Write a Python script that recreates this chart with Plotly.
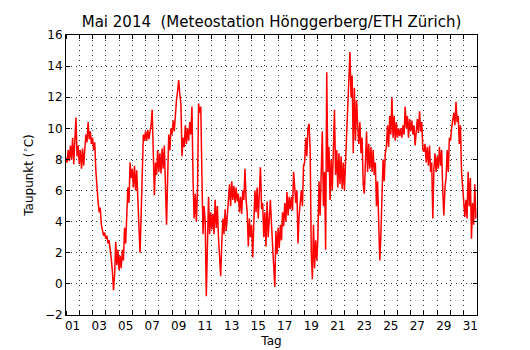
import pandas as pd
import plotly.graph_objects as go

# Taupunkt, Mai 2014, 2-stündlich, je Tag 12 Werte (00,02,...,22 Uhr)
taupunkt = [
    8.1, 7.8, 8.6, 7.9, 8.9, 8.0, 9.4, 7.7, 9.2, 10.7, 8.2, 8.9,      # 01
    7.7, 8.6, 7.4, 8.7, 7.6, 8.9, 9.6, 9.1, 10.4, 9.3, 9.8, 9.0,      # 02
    9.4, 8.6, 9.1, 7.3, 5.9, 5.3, 4.6, 4.9, 3.8, 3.4, 3.1, 3.3,       # 03
    2.9, 3.1, 2.6, 2.8, 2.3, 1.6, 0.8, -0.4, 0.6, 2.7, 1.2, 2.2,      # 04
    0.9, 1.8, 1.0, 2.2, 1.5, 3.6, 2.6, 4.8, 6.2, 5.2, 7.8, 6.8,       # 05
    7.4, 6.2, 7.6, 6.0, 7.3, 5.5, 3.2, 2.0, 4.4, 7.2, 9.6, 9.2,       # 06
    9.8, 9.2, 9.9, 9.3, 9.7, 10.2, 11.2, 7.2, 5.7, 7.8, 7.0, 8.6,     # 07
    7.2, 8.4, 7.1, 8.7, 7.4, 8.9, 6.0, 3.8, 6.8, 9.6, 8.6, 10.0,      # 08
    9.6, 10.5, 9.8, 11.0, 11.8, 12.4, 13.1, 12.2, 11.6, 8.2, 9.4, 8.8,  # 09
    10.2, 9.0, 10.0, 9.2, 10.4, 9.6, 11.4, 6.6, 4.2, 5.8, 4.0, 6.0,   # 10
    11.6, 11.0, 11.4, 7.0, 3.2, 5.0, 4.0, -0.8, 3.8, 5.6, 3.2, 4.6,   # 11
    3.5, 4.5, 3.2, 5.4, 3.6, 5.0, 3.0, 1.4, 0.5, 2.6, 4.2, 3.2,       # 12
    4.8, 3.4, 4.6, 5.2, 6.4, 5.0, 6.6, 5.4, 6.3, 5.2, 6.2, 5.3,       # 13
    5.8, 4.6, 5.6, 4.5, 6.0, 5.4, 7.4, 5.4, 4.6, 2.4, 4.2, 3.0,       # 14
    3.8, 1.7, 4.4, 6.0, 4.6, 6.2, 4.2, 5.8, 7.5, 4.8, 5.2, 3.0,       # 15
    4.6, 2.4, 5.3, 3.0, 4.0, 5.4, 3.8, 2.4, 0.6, -0.2, 3.4, 1.9,      # 16
    3.6, 2.3, 3.8, 2.8, 4.6, 3.7, 5.2, 4.0, 5.9, 4.4, 5.6, 4.8,       # 17
    5.6, 4.7, 7.2, 6.0, 5.2, 6.0, 2.6, 4.4, 5.0, 6.0, 5.0, 7.6,       # 18
    7.8, 9.4, 8.2, 10.0, 10.3, 8.6, 2.0, 0.3, 3.8, 1.0, 2.8, 1.5,     # 19
    3.0, 6.6, 4.4, 7.6, 9.8, 5.0, 7.2, 2.2, 13.6, 7.2, 8.8, 5.4,      # 20
    8.0, 6.0, 8.8, 11.2, 7.0, 8.6, 6.2, 8.4, 6.4, 8.2, 6.1, 7.8,      # 21
    6.0, 7.6, 9.8, 11.6, 13.4, 14.9, 12.0, 13.4, 8.4, 12.6, 9.2, 11.8,  # 22
    10.2, 9.0, 10.4, 8.4, 9.4, 6.4, 5.8, 8.2, 9.8, 7.2, 9.0, 7.4,     # 23
    8.8, 7.2, 8.6, 7.0, 7.8, 5.0, 6.6, 4.0, 1.5, 3.2, 6.6, 8.0,       # 24
    6.6, 8.4, 8.8, 10.2, 8.8, 10.8, 9.6, 12.0, 9.4, 10.8, 9.2, 10.4,  # 25
    9.4, 10.0, 9.5, 10.0, 9.4, 10.2, 9.6, 11.4, 10.0, 10.8, 9.4, 10.6,  # 26
    9.8, 10.5, 9.6, 10.2, 8.9, 9.8, 10.6, 9.7, 11.1, 9.8, 10.4, 8.6,  # 27
    8.5, 9.0, 7.8, 8.8, 7.6, 8.9, 7.2, 7.8, 4.2, 7.4, 8.4, 7.2,       # 28
    8.2, 7.4, 8.8, 7.6, 8.6, 6.0, 4.4, 6.2, 6.8, 8.6, 7.2, 9.4,       # 29
    9.2, 10.0, 10.4, 11.0, 10.2, 11.7, 10.4, 10.8, 9.0, 10.2, 7.2, 6.0,  # 30
    5.6, 4.3, 5.4, 4.2, 7.2, 5.0, 6.8, 2.9, 5.2, 3.8, 6.4, 4.2,       # 31
]

zeit = pd.date_range("2014-05-01 00:00", periods=len(taupunkt), freq="2h")

tag_labels = ["%02d" % d for d in range(1, 32, 2)]
tag_positionen = pd.to_datetime(["2014-05-%02d 12:00" % d for d in range(1, 32, 2)])
y_ticks = list(range(-2, 17, 2))

fig = go.Figure()
fig.add_trace(go.Scatter(
    x=zeit, y=taupunkt, mode="lines",
    line=dict(color="#ff0000", width=1.5),
    showlegend=False, hoverinfo="skip",
))

font = dict(family="DejaVu Sans", size=12, color="black")
grid_dash = "1px,4px"
grid_color = "#333333"

fig.update_layout(
    width=530, height=350,
    margin=dict(l=66, r=53, t=35, b=35),
    paper_bgcolor="white", plot_bgcolor="white",
    font=font,
    title=dict(text="Mai 2014  (Meteostation Hönggerberg/ETH Zürich)",
               x=0.5, xref="paper", xanchor="center",
               y=1 - 22 / 350, yref="container", yanchor="middle",
               font=dict(family="DejaVu Sans", size=15, color="black")),
)

fig.update_xaxes(
    type="date",
    range=["2014-05-01 00:00", "2014-06-01 00:00"],
    tickmode="array", tickvals=tag_positionen, ticktext=tag_labels,
    ticks="", showgrid=False, zeroline=False, automargin=False,
    showline=True, linecolor="black", linewidth=1, mirror="ticks",
    tickfont=font,
    title=dict(text="Tag", font=font, standoff=4),
    minor=dict(tick0="2014-05-01", dtick=86400000, ticks="inside", ticklen=4,
               tickcolor="black", showgrid=True, gridcolor=grid_color,
               griddash=grid_dash, gridwidth=1),
)

fig.update_yaxes(
    range=[-2, 16], tickmode="array", tickvals=y_ticks,
    ticks="inside", ticklen=4, tickcolor="black",
    showgrid=True, gridcolor=grid_color, griddash=grid_dash, gridwidth=1,
    zeroline=False, automargin=False,
    showline=True, linecolor="black", linewidth=1, mirror="ticks",
    tickfont=font,
    title=dict(text="Taupunkt (<sup>∘</sup>C)", font=font, standoff=8),
)

fig.write_html("out.html", config={"displayModeBar": False},
               post_script="document.body.style.margin='0';")
